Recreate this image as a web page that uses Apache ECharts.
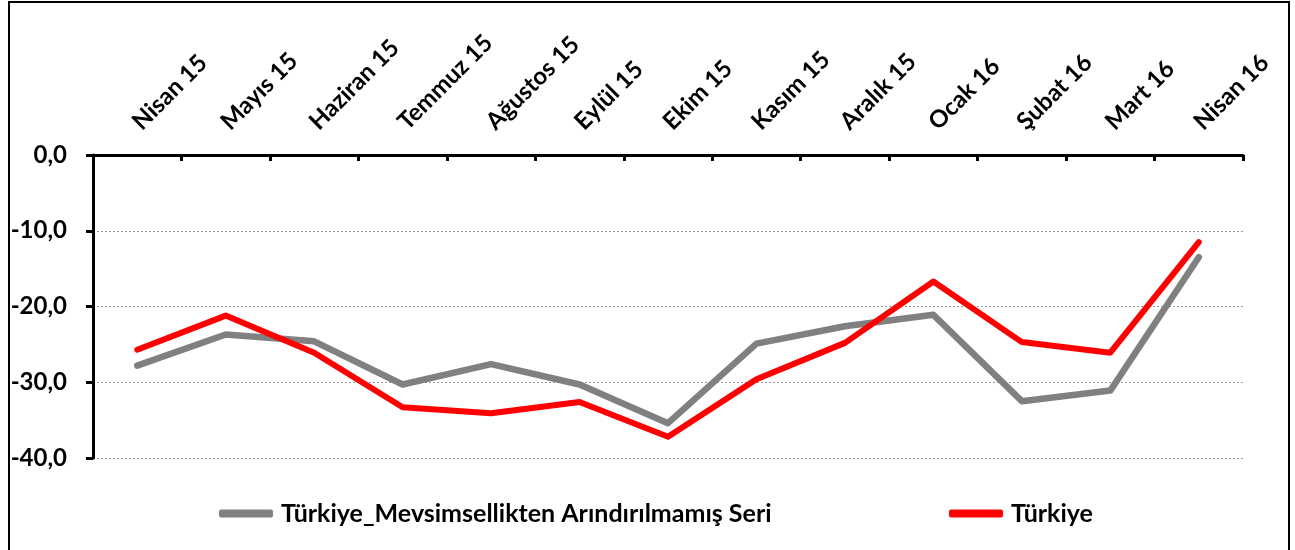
<!DOCTYPE html>
<html>
<head>
<meta charset="utf-8">
<script src="https://cdn.jsdelivr.net/npm/echarts@6/dist/echarts.min.js"></script>
<style>
html,body{margin:0;padding:0;background:#fff;}
#chart{width:1295px;height:550px;}
</style>
</head>
<body>
<div id="chart"></div>
<script>
const categories = ['Nisan 15','Mayıs 15','Haziran 15','Temmuz 15','Ağustos 15','Eylül 15','Ekim 15','Kasım 15','Aralık 15','Ocak 16','Şubat 16','Mart 16','Nisan 16'];
const seriesNames = ['Türkiye_Mevsimsellikten Arındırılmamış Seri','Türkiye'];
const unadjusted = [-27.8,-23.7,-24.6,-30.3,-27.6,-30.3,-35.4,-24.9,-22.6,-21.1,-32.5,-31.1,-13.5];
const turkiye = [-25.7,-21.2,-26.1,-33.3,-34.1,-32.6,-37.2,-29.6,-24.8,-16.7,-24.7,-26.1,-11.5];
const yTicks = {min:-40, max:0, interval:10};

const FONT = 'Lato';
const chart = echarts.init(document.getElementById('chart'), null, {renderer:'canvas'});
chart.setOption({
  animation:false,
  backgroundColor:'#fff',
  graphic:[{type:'rect', shape:{x:9,y:2,width:1280,height:570}, style:{fill:'none', stroke:'#000', lineWidth:2}, silent:true}],
  grid:{left:93,right:52,top:155,bottom:92,containLabel:false},
  legend:[
    {data:[seriesNames[0]], left:214, top:496, icon:'roundRect', itemWidth:54, itemHeight:8,
     textStyle:{fontFamily:FONT,fontWeight:'bold',fontSize:25,color:'#000',padding:[0,0,0,3]}},
    {data:[seriesNames[1]], left:944, top:496, icon:'roundRect', itemWidth:54, itemHeight:8,
     textStyle:{fontFamily:FONT,fontWeight:'bold',fontSize:25,color:'#000',padding:[0,0,0,3]}}
  ],
  xAxis:{
    type:'category', data:categories, position:'top', boundaryGap:true,
    axisLine:{onZero:false, lineStyle:{color:'#000',width:3}},
    axisTick:{show:true, inside:true, length:6, interval:0, lineStyle:{color:'#000',width:3}},
    axisLabel:{interval:0, rotate:-45, margin:13, align:'left', verticalAlign:'bottom', padding:[0,0,0,11],
      fontFamily:FONT, fontWeight:'bold', fontSize:24, color:'#000', hideOverlap:false},
    splitLine:{show:false}
  },
  yAxis:{
    type:'value', min:yTicks.min, max:yTicks.max, interval:yTicks.interval,
    axisLine:{show:true, lineStyle:{color:'#000',width:3}},
    axisTick:{show:true, inside:false, length:7, lineStyle:{color:'#000',width:3}},
    axisLabel:{margin:26, fontFamily:FONT, fontWeight:'bold', fontSize:24, color:'#000',
      formatter:v=>v.toFixed(1).replace('.',',')},
    splitLine:{show:true, lineStyle:{color:'#999', width:1, type:[2,2]}}
  },
  series:[
    {name:seriesNames[0], type:'line', data:unadjusted, symbol:'none', color:'#808080',
     lineStyle:{color:'#808080', width:6.5, cap:'round', join:'round'}, z:2},
    {name:seriesNames[1], type:'line', data:turkiye, symbol:'none', color:'#FF0000',
     lineStyle:{color:'#FF0000', width:6, cap:'round', join:'round'}, z:3}
  ]
});
</script>
</body>
</html>
